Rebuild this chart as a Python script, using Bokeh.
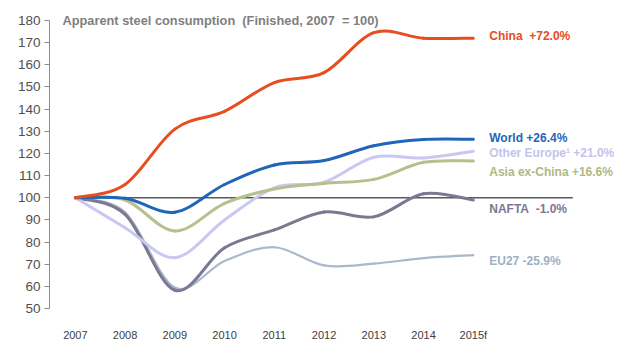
from bokeh.plotting import figure
from bokeh.models import Range1d, FixedTicker, Label
from bokeh.embed import file_html
from bokeh.resources import INLINE

years = [2007, 2008, 2009, 2010, 2011, 2012, 2013, 2014, 2015]
year_labels = ["2007", "2008", "2009", "2010", "2011", "2012", "2013", "2014", "2015f"]

china = [100, 106, 131, 139, 152, 156.5, 174.5, 172, 172.0]
world = [100, 99.8, 93.5, 106, 114.8, 116.8, 123.5, 126.3, 126.4]
other_europe = [100, 86.5, 73, 90, 104.5, 107, 118.3, 118, 121.0]
asia_ex_china = [100, 99, 85, 97.5, 104, 106.5, 108.3, 116, 116.6]
nafta = [100, 92.5, 58.3, 77.5, 85.5, 93.6, 91.4, 101.8, 99.0]
eu27 = [100, 93.5, 59.5, 71.5, 77.7, 69.5, 70.3, 72.8, 74.1]

NB = "\u00a0"
series_names = ["EU27", "NAFTA", "Other Europe", "Asia ex-China", "World", "China"]
series_values = [eu27, nafta, other_europe, asia_ex_china, world, china]
series_labels = ["EU27 -25.9%", "NAFTA" + NB + " -1.0%", "Other Europe\u00b9 +21.0%",
                 "Asia ex-China +16.6%", "World +26.4%", "China" + NB + " +72.0%"]
title_text = "Apparent steel consumption" + NB + " (Finished, 2007" + NB + " = 100)"

colors = ["#A9B9CB", "#7D7891", "#C9C8F2", "#B5C08C", "#1F66B8", "#E84D1F"]
label_colors = ["#9FB0C4", "#7D7891", "#C4C3EE", "#AEB985", "#1F66B8", "#E84D1F"]
widths = [2.2, 3, 3, 3, 3, 3]
label_y = [71.4, 95.1, 120.1, 111.6, 127.2, 172.9]

W, H = 629, 353
p = figure(width=W, height=H, output_backend="svg", toolbar_location=None,
           x_range=Range1d(2006.48, 2018.14), y_range=Range1d(46.9, 184.5),
           min_border_left=49, min_border_right=0, min_border_top=10, min_border_bottom=38)
p.outline_line_color = None
p.grid.visible = False
p.background_fill_color = "white"
p.border_fill_color = "white"

# y axis
ya = p.yaxis[0]
ya.ticker = FixedTicker(ticks=list(range(50, 181, 10)))
ya.bounds = (50, 180)
ya.axis_line_color = "#8C8C8C"
ya.major_tick_line_color = "#8C8C8C"
ya.major_tick_out = 5
ya.major_tick_in = 0
ya.minor_tick_line_color = None
ya.major_label_standoff = 4
ya.major_label_text_font = "Liberation Sans"
ya.major_label_text_font_size = "13.5px"
ya.major_label_text_color = "#505050"

# x axis
xa = p.xaxis[0]
xa.ticker = FixedTicker(ticks=years)
xa.major_label_overrides = {y: l for y, l in zip(years, year_labels)}
xa.axis_line_color = None
xa.major_tick_line_color = None
xa.minor_tick_line_color = None
xa.major_label_standoff = 7
xa.major_label_text_font = "Liberation Sans"
xa.major_label_text_font_size = "11px"
xa.major_label_text_color = "#404040"

# reference line at 100
p.line([2007, 2017], [100, 100], line_color="#595959", line_width=1.6)


def smooth_segments(xs, ys):
    n = len(xs)
    x0, y0, x1, y1, cx0, cy0, cx1, cy1 = [], [], [], [], [], [], [], []
    for i in range(n - 1):
        pa = (xs[i - 1], ys[i - 1]) if i > 0 else (xs[i], ys[i])
        pb = (xs[i], ys[i])
        pc = (xs[i + 1], ys[i + 1])
        pd = (xs[i + 2], ys[i + 2]) if i + 2 < n else (xs[i + 1], ys[i + 1])
        x0.append(pb[0]); y0.append(pb[1])
        x1.append(pc[0]); y1.append(pc[1])
        cx0.append(pb[0] + (pc[0] - pa[0]) / 6.0)
        cy0.append(pb[1] + (pc[1] - pa[1]) / 6.0)
        cx1.append(pc[0] - (pd[0] - pb[0]) / 6.0)
        cy1.append(pc[1] - (pd[1] - pb[1]) / 6.0)
    return dict(x0=x0, y0=y0, x1=x1, y1=y1, cx0=cx0, cy0=cy0, cx1=cx1, cy1=cy1)


for vals, col, lw in zip(series_values, colors, widths):
    seg = smooth_segments(years, vals)
    p.bezier(x0=seg["x0"], y0=seg["y0"], x1=seg["x1"], y1=seg["y1"],
             cx0=seg["cx0"], cy0=seg["cy0"], cx1=seg["cx1"], cy1=seg["cy1"],
             line_color=col, line_width=lw, line_cap="round")

for txt, col, ly in zip(series_labels, label_colors, label_y):
    p.add_layout(Label(x=2015.32, y=ly, text=txt, text_color=col,
                       text_font="Liberation Sans", text_font_style="bold",
                       text_font_size="12px", text_baseline="middle", text_align="left"))

p.add_layout(Label(x=2006.74, y=179.8, text=title_text,
                   text_color="#7F7F7F", text_font="Liberation Sans", text_font_style="bold",
                   text_font_size="12.8px", text_baseline="middle", text_align="left"))

open("out.html", "w").write(file_html(p, INLINE))
